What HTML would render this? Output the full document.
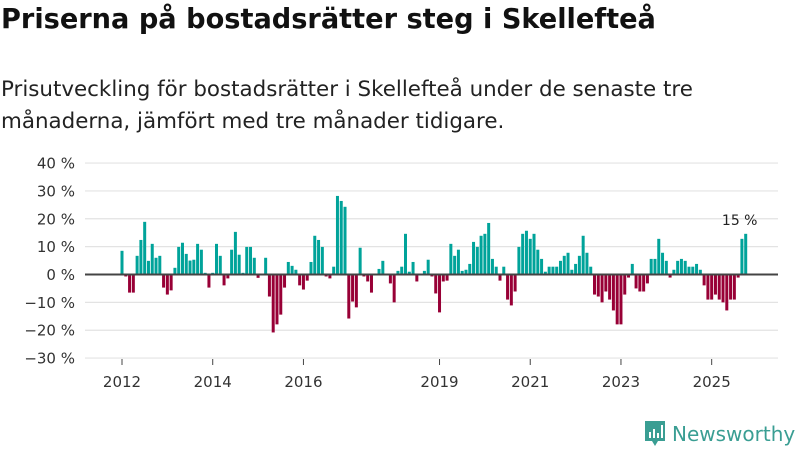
<!DOCTYPE html>
<html><head><meta charset="utf-8">
<style>
body{margin:0;width:800px;height:450px;background:#fff;font-family:"DejaVu Sans","Liberation Sans",sans-serif;overflow:hidden;position:relative}
h1{position:absolute;left:1px;top:4px;margin:0;font-size:27.2px;font-weight:bold;color:#111;letter-spacing:0;white-space:nowrap}
p{position:absolute;left:1px;top:74px;margin:0;font-size:21.4px;line-height:32px;color:#222;white-space:nowrap}
svg{position:absolute;left:0;top:0}
</style></head><body>
<h1>Priserna på bostadsrätter steg i Skellefteå</h1>
<p>Prisutveckling för bostadsrätter i Skellefteå under de senaste tre<br>månaderna, jämfört med tre månader tidigare.</p>
<svg id="chart" width="800" height="450"></svg>
<script>
const yTicks=[40,30,20,10,0,-10,-20,-30];
const yTickLabels=["40 %","30 %","20 %","10 %","0 %","−10 %","−20 %","−30 %"];
const xYears=[2012,2014,2016,2019,2021,2023,2025];
const startYear=2012;
const values=[8.5,-0.7,-6.5,-6.5,6.7,12.4,18.9,4.9,11,6,6.7,-4.7,-7.2,-5.7,2.4,9.9,11.4,7.4,5,5.3,11,8.9,0.6,-4.7,0.6,11,6.7,-3.9,-1.4,8.9,15.3,7.1,0.6,9.9,9.9,6,-1.2,0,6,-7.9,-20.8,-17.9,-14.4,-4.7,4.5,3.1,1.7,-3.9,-5.4,-2.2,4.5,13.9,12.4,9.9,-0.7,-1.4,2.8,28.2,26.4,24.3,-15.8,-9.7,-11.8,9.6,-0.7,-2.5,-6.5,0,2,4.9,0,-3.2,-10,1.3,2.8,14.6,1,4.5,-2.5,0,1.3,5.3,-0.7,-6.8,-13.6,-2.5,-2.2,11,6.7,8.9,1.3,1.7,3.8,11.7,9.9,13.9,14.6,18.5,5.6,2.8,-2.2,2.8,-9,-11.1,-6.1,9.9,14.6,15.7,12.8,14.6,8.9,5.6,1,2.8,2.8,2.8,4.9,6.7,7.8,1.7,3.8,6.7,13.9,7.8,2.8,-7.2,-7.9,-10,-6.1,-9,-12.9,-17.9,-17.9,-7.2,-1.1,3.8,-5,-6.1,-6.1,-3.2,5.6,5.6,12.8,7.8,4.9,-1.1,1.7,4.9,5.6,4.9,2.8,2.8,3.8,1.7,-3.9,-9,-9,-7.2,-9,-10,-12.9,-9,-9,-1.1,12.8,14.6];
const lastLabel="15 %";
const NS="http://www.w3.org/2000/svg";
const svg=document.getElementById('chart');
const y=v=>274.5-v*2.786;
const x=i=>122+i*3.78;
const FF='DejaVu Sans, Liberation Sans, sans-serif';
function mk(t,a){const e=document.createElementNS(NS,t);for(const k in a)e.setAttribute(k,a[k]);svg.appendChild(e);return e;}
yTicks.forEach((t,k)=>{
  const g=mk('line',{x1:85,x2:778,y1:y(t),y2:y(t),stroke:'#e3e3e3','stroke-width':1.2});
  
  
  const tx=mk('text',{x:75,y:y(t)+5.5,'text-anchor':'end','font-size':15,fill:'#333','font-family':FF});
  tx.textContent=yTickLabels[k];
  
  
});
values.forEach((v,i)=>{
  if(v===0)return;
  const r=mk('rect',{x:x(i)-1.5,y:Math.min(y(v),y(0)),width:3,height:Math.abs(y(v)-y(0)),fill:v>0?'#00a39a':'#980036'});
  
  
});
const ax=mk('line',{x1:85,x2:778,y1:y(0),y2:y(0),stroke:'#444','stroke-width':2});


xYears.forEach(yr=>{
  const xx=x((yr-startYear)*12);
  const tk=mk('line',{x1:xx,x2:xx,y1:359,y2:365,stroke:'#444','stroke-width':1});
  
  
  const t=mk('text',{x:xx,y:387,'text-anchor':'middle','font-size':15,fill:'#333','font-family':FF});
  t.textContent=yr;
  
  
});
const li=values.length-1;
const ll=mk('text',{x:x(li)-6,y:y(values[li])-9,'text-anchor':'middle','font-size':14,fill:'#222','font-family':FF});
ll.textContent=lastLabel;


</script>
<div style="position:absolute;left:643px;top:420px;display:flex;align-items:center">
<svg width="24" height="28" viewBox="0 0 24 28" style="position:static"><path d="M2 1h20v20h-7l-3 5-3-5H2z" fill="#3a9e93"/><rect x="6" y="12" width="2" height="6" fill="#fff"/><rect x="10" y="9" width="2" height="9" fill="#fff"/><rect x="14" y="13" width="2" height="5" fill="#fff"/><rect x="18" y="5" width="2" height="13" fill="#fff"/></svg>
<span style="margin-left:5px;font-size:20px;color:#3a9e93;font-weight:500">Newsworthy</span></div>
</body></html>
